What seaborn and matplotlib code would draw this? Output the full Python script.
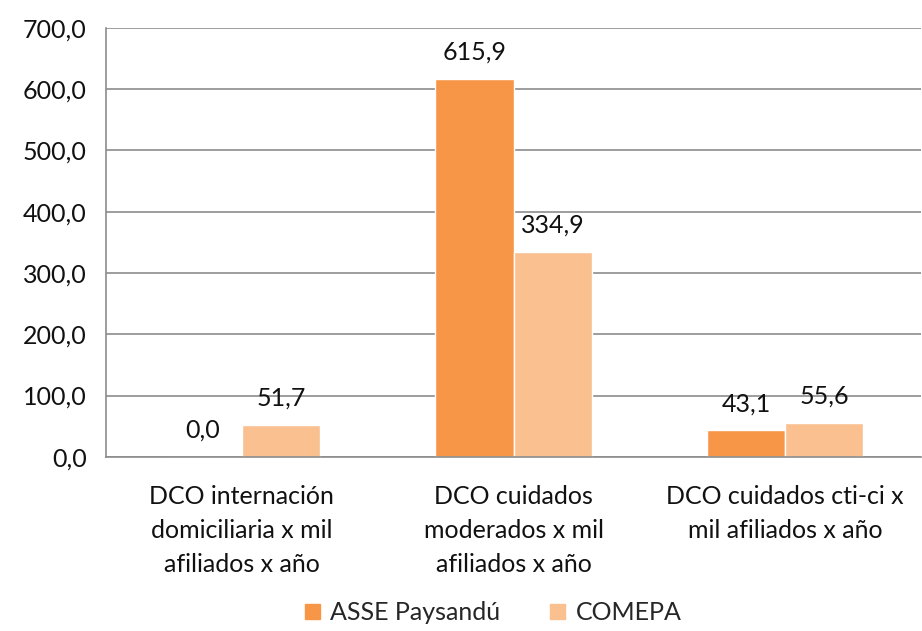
import numpy as np
import pandas as pd
import seaborn as sns
import matplotlib
matplotlib.use("Agg")
import matplotlib.pyplot as plt

categories = ["DCO internación\ndomiciliaria x mil\nafiliados x año",
              "DCO cuidados\nmoderados x mil\nafiliados x año",
              "DCO cuidados cti-ci x\nmil afiliados x año"]
series = ["ASSE Paysandú", "COMEPA"]
asse = [0.0, 615.9, 43.1]
comepa = [51.7, 334.9, 55.6]
colors = ["#F79646", "#FAC090"]
yticks = [0, 100, 200, 300, 400, 500, 600, 700]

df = pd.DataFrame({
    "Categoria": categories * 2,
    "Serie": [series[0]] * 3 + [series[1]] * 3,
    "Valor": asse + comepa,
})

sns.set_style("white")
plt.rcParams["font.family"] = ["Lato", "DejaVu Sans"]
FS = 18

fig = plt.figure(figsize=(9.22, 6.31), dpi=100)
ax = fig.add_axes([0.115, 0.276, 0.884, 0.68])

sns.barplot(data=df, x="Categoria", y="Valor", hue="Serie", palette=colors,
            width=0.576, saturation=1, ax=ax, legend=False)

for cont in ax.containers:
    labels = [f"{b.get_height():.1f}".replace(".", ",") for b in cont]
    ax.bar_label(cont, labels=labels, padding=11, fontsize=FS, color="#111111")

ax.set_ylim(0, 700)
ax.set_yticks(yticks)
ax.set_yticklabels([f"{v:.1f}".replace(".", ",") for v in yticks])
ax.yaxis.grid(True, color="#8c8c8c", linewidth=1.2)
ax.set_axisbelow(True)
ax.set_xlim(-0.5, 2.5)
ax.set_xticks([-0.5, 0.5, 1.5, 2.5], minor=False)
ax.set_xticklabels([])
ax.set_xticks([0, 1, 2], minor=True)
ax.set_xticklabels(categories, minor=True, fontsize=FS, color="#111111", linespacing=1.6)
ax.tick_params(axis="x", which="minor", length=0, pad=20)
ax.tick_params(axis="x", which="major", length=6, width=1.2, color="#8c8c8c", direction="out")
ax.tick_params(axis="y", length=6, width=1.2, color="#8c8c8c", direction="out", pad=8,
               labelsize=FS, labelcolor="#111111")
ax.set_xlabel("")
ax.set_ylabel("")

for s in ["top", "right"]:
    ax.spines[s].set_visible(False)
for s in ["left", "bottom"]:
    ax.spines[s].set_color("#8c8c8c")
    ax.spines[s].set_linewidth(1.2)

handles = [plt.Rectangle((0, 0), 1, 1, color=c) for c in colors]
fig.legend(handles, series, loc="lower center", bbox_to_anchor=(0.535, -0.025), ncol=2,
           frameon=False, fontsize=FS, handlelength=0.6, handleheight=0.6,
           columnspacing=2.0, handletextpad=0.4)

fig.savefig("out.png", dpi=100)
